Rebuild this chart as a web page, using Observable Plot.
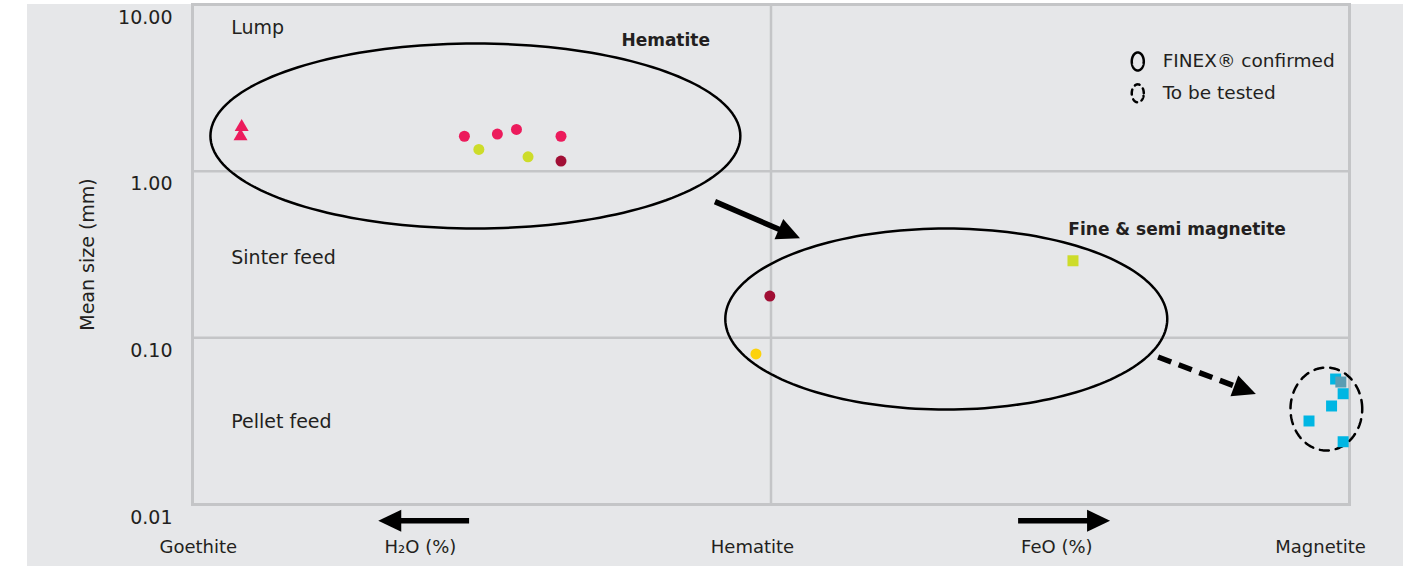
<!DOCTYPE html>
<html><head><meta charset="utf-8">
<script src="https://cdn.jsdelivr.net/npm/d3@7"></script>
<script src="https://cdn.jsdelivr.net/npm/@observablehq/plot@0.6"></script>
<style>
html,body{margin:0;padding:0;background:#fff;}
#wrap{position:relative;width:1413px;height:566px;overflow:hidden;}
#bg{position:absolute;left:27px;top:4px;width:1376px;height:562px;background:#e6e7e9;}
#chart{position:absolute;left:0;top:0;}
</style></head><body>
<div id="wrap"><div id="bg"></div><div id="chart"></div></div>
<script>
// ---- data ----
const triangleX = [0.085, 0.083];
const triangleY = [1.84, 1.62];

const circleX = [0.470, 0.527, 0.560, 0.637, 0.495, 0.580, 0.637, 0.998, 0.974];
const circleY = [1.62, 1.67, 1.78, 1.62, 1.35, 1.22, 1.15, 0.178, 0.080];
const circleGroup = ["A", "A", "A", "A", "B", "B", "C", "C", "D"];

const squareX = [1.522, 1.976, 1.989, 1.969, 1.930, 1.989, 1.985];
const squareY = [0.290, 0.0566, 0.0462, 0.039, 0.0317, 0.0238, 0.0543];
const squareGroup = ["B", "E", "E", "E", "E", "E", "F"];

const groups = ["A", "B", "C", "D", "E", "F"];
const groupColors = ["#ec1b5c", "#cddc2a", "#a10f35", "#fcd20b", "#00b6e3", "#5b9db3"];

// ellipses (center x, center y value, x radius, y radius in decades)
const ellipseCx = [0.489, 1.303, 1.960, 1.634, 1.634];
const ellipseCy = [1.626, 0.1297, 0.0374, 4.55, 2.93];
const ellipseRx = [0.458, 0.382, 0.062, 0.0104, 0.0104];
const ellipseRy = [0.555, 0.543, 0.249, 0.054, 0.054];
const ellipseKind = ["solid", "solid", "dashed", "solid", "dashedSmall"];

// arrows
const arrowX1 = [0.904, 1.670, 0.479, 1.428];
const arrowY1 = [0.652, 0.0762, 0.00793, 0.00793];
const arrowX2 = [1.051, 1.839, 0.322, 1.587];
const arrowY2 = [0.393, 0.0457, 0.00793, 0.00793];
const arrowDashed = [false, true, false, false];

// texts
const yTicks = [10, 1, 0.1, 0.01];
const regionLabels = ["Lump", "Sinter feed", "Pellet feed"];
const regionX = [0.067, 0.067, 0.067];
const regionY = [7.28, 0.303, 0.0311];

const titleLabels = ["Hematite", "Fine & semi magnetite"];
const titleX = [0.818, 1.514];
const titleY = [6.08, 0.447];

const legendLabels = ["FINEX® confirmed", "To be tested"];
const legendX = [1.677, 1.677];
const legendY = [4.55, 2.93];

const bottomLabels = ["Goethite", "H₂O (%)", "Hematite", "FeO (%)", "Magnetite"];
const bottomX = [0.010, 0.394, 0.968, 1.494, 1.950];
const bottomY = 0.00553;

// ---- derived tables ----
const tri = triangleX.map((x, i) => ({x, y: triangleY[i]}));
const circles = circleX.map((x, i) => ({x, y: circleY[i], g: circleGroup[i]}));
const squares = squareX.map((x, i) => ({x, y: squareY[i], g: squareGroup[i]}));
const ellipsePts = [];
ellipseCx.forEach((cx, i) => {
  const cl = Math.log10(ellipseCy[i]);
  for (let a = 0; a <= 360; a += 2) {
    const t = a * Math.PI / 180;
    ellipsePts.push({id: i, kind: ellipseKind[i], x: cx + ellipseRx[i] * Math.cos(t), y: Math.pow(10, cl + ellipseRy[i] * Math.sin(t))});
  }
});

const font = "DejaVu Sans, sans-serif";
const textCol = "#231f20";
const gridCol = "#c4c5c7";

function arrows(index, scales) {
  const ns = "http://www.w3.org/2000/svg";
  const g = document.createElementNS(ns, "g");
  arrowX1.forEach((_, i) => {
    const x1 = scales.x(arrowX1[i]), y1 = scales.y(arrowY1[i]);
    const x2 = scales.x(arrowX2[i]), y2 = scales.y(arrowY2[i]);
    const a = Math.atan2(y2 - y1, x2 - x1);
    const L = 23, W = 11;
    const bx = x2 - L * Math.cos(a), by = y2 - L * Math.sin(a);
    const line = document.createElementNS(ns, "line");
    line.setAttribute("x1", x1); line.setAttribute("y1", y1);
    line.setAttribute("x2", bx + 2 * Math.cos(a)); line.setAttribute("y2", by + 2 * Math.sin(a));
    line.setAttribute("stroke", "#000"); line.setAttribute("stroke-width", 5.5);
    if (arrowDashed[i]) line.setAttribute("stroke-dasharray", "14,8");
    g.appendChild(line);
    const p = document.createElementNS(ns, "polygon");
    p.setAttribute("points", [[x2, y2], [bx - W * Math.sin(a), by + W * Math.cos(a)], [bx + W * Math.sin(a), by - W * Math.cos(a)]].map(d => d.join(",")).join(" "));
    p.setAttribute("fill", "#000");
    g.appendChild(p);
  });
  return g;
}

const plot = Plot.plot({
  width: 1413,
  height: 566,
  marginLeft: 192,
  marginRight: 64,
  marginTop: 4,
  marginBottom: 62,
  style: {background: "transparent", fontFamily: font, fontSize: "19px", color: textCol, overflow: "visible"},
  x: {domain: [0, 2], axis: null},
  y: {type: "log", domain: [0.01, 10], axis: null},
  color: {domain: groups, range: groupColors},
  marks: [
    Plot.ruleX([1], {stroke: gridCol, strokeWidth: 2.5}),
    Plot.ruleY([1, 0.1], {stroke: gridCol, strokeWidth: 2.5}),
    Plot.frame({stroke: gridCol, strokeWidth: 3}),
    Plot.axisY({ticks: yTicks, tickFormat: d3.format(".2f"), tickSize: 0, tickPadding: 20, dy: 13, fontSize: 19, fill: textCol, label: null}),
    Plot.text(["Mean size (mm)"], {frameAnchor: "left", textAnchor: "middle", dx: -105, rotate: -90, fontSize: 19, fill: textCol}),
    Plot.line(ellipsePts.filter(d => d.kind === "solid"), {x: "x", y: "y", z: "id", stroke: "#000", strokeWidth: 2.5}),
    Plot.line(ellipsePts.filter(d => d.kind === "dashed"), {x: "x", y: "y", z: "id", stroke: "#000", strokeWidth: 2.5, strokeDasharray: "9,7"}),
    Plot.line(ellipsePts.filter(d => d.kind === "dashedSmall"), {x: "x", y: "y", z: "id", stroke: "#000", strokeWidth: 2.5, strokeDasharray: "5,5"}),
    Plot.dot(tri, {x: "x", y: "y", symbol: "triangle", r: 5.2, fill: groupColors[0], stroke: "none"}),
    Plot.dot(circles, {x: "x", y: "y", fill: "g", r: 5.5, stroke: "none"}),
    Plot.dot(squares, {x: "x", y: "y", fill: "g", symbol: "square", r: 6.2, stroke: "none"}),
    arrows,
    Plot.text(regionLabels, {x: (d, i) => regionX[i], y: (d, i) => regionY[i], text: d => d, textAnchor: "start", fontSize: 19, fill: textCol}),
    Plot.text([titleLabels[0]], {x: [titleX[0]], y: [titleY[0]], text: d => d, textAnchor: "middle", fontSize: 17, fontWeight: "bold", fill: textCol}),
    Plot.text([titleLabels[1]], {x: [titleX[1]], y: [titleY[1]], text: d => d, textAnchor: "start", fontSize: 17, fontWeight: "bold", fill: textCol}),
    Plot.text(legendLabels, {x: (d, i) => legendX[i], y: (d, i) => legendY[i], text: d => d, textAnchor: "start", fontSize: 18.5, fill: textCol}),
    Plot.text(bottomLabels, {x: (d, i) => bottomX[i], y: bottomY, text: d => d, textAnchor: "middle", fontSize: 18, fill: textCol})
  ]
});
document.getElementById("chart").appendChild(plot);
</script>
</body></html>
